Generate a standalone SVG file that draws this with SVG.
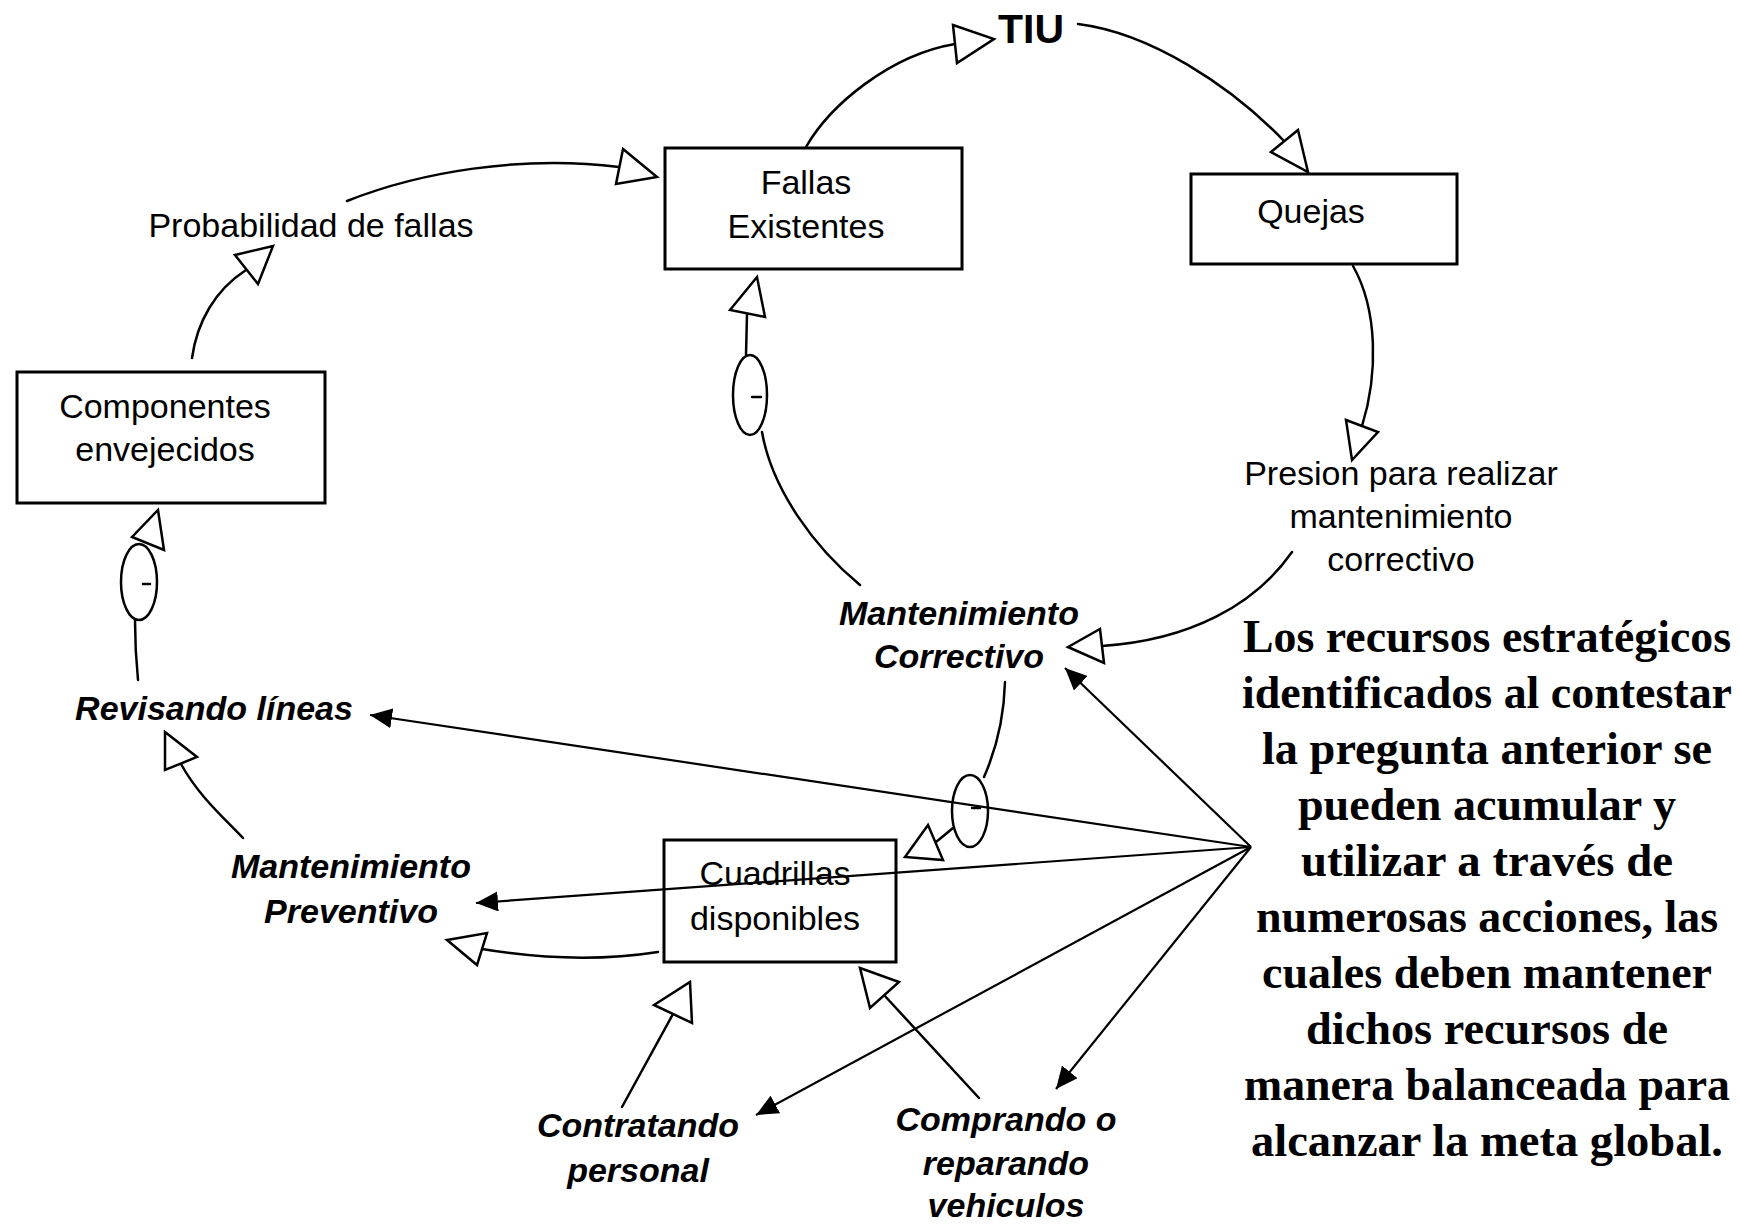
<svg xmlns="http://www.w3.org/2000/svg" width="1740" height="1226" viewBox="0 0 1740 1226">
<style>
.bg{fill:#fff}
.box{fill:#fff;stroke:#000;stroke-width:3}
.ln{fill:none;stroke:#000;stroke-width:2.5;stroke-linecap:round}
.fl{fill:none;stroke:#000;stroke-width:2.2}
.tri{fill:#fff;stroke:#000;stroke-width:2.5;stroke-linejoin:miter}
.sgn{fill:#fff;stroke:#000;stroke-width:2.5}
.t{font-family:"Liberation Sans",Arial,Helvetica,sans-serif;font-size:34px;fill:#000;text-anchor:middle}
.bi{font-weight:bold;font-style:italic}
.tiu{font-family:"Liberation Sans",Arial,Helvetica,sans-serif;font-size:41px;font-weight:bold;fill:#000}
.big{font-family:"Liberation Serif","Times New Roman",serif;font-size:47px;font-weight:bold;fill:#000;text-anchor:middle}
</style>
<defs>
<marker id="ah" markerUnits="userSpaceOnUse" viewBox="0 0 22 20" markerWidth="22" markerHeight="20" refX="22" refY="10" orient="auto">
<path d="M0,0 L22,10 L0,20 z" fill="#000"/>
</marker>
</defs>
<rect class="bg" x="0" y="0" width="1740" height="1226"/>

<g id="node-fallas">
<rect class="box" x="665" y="148" width="297" height="121"/>
<text class="t" x="806" y="194">Fallas</text>
<text class="t" x="806" y="238">Existentes</text>
</g>
<g id="node-quejas">
<rect class="box" x="1191" y="174" width="266" height="90"/>
<text class="t" x="1311" y="223">Quejas</text>
</g>
<g id="node-componentes">
<rect class="box" x="17" y="372" width="308" height="131"/>
<text class="t" x="165" y="418">Componentes</text>
<text class="t" x="165" y="461">envejecidos</text>
</g>
<g id="node-cuadrillas">
<rect class="box" x="664" y="840" width="232" height="122"/>
<text class="t" x="775" y="885">Cuadrillas</text>
<text class="t" x="775" y="930">disponibles</text>
</g>
<g id="node-tiu">
<text class="tiu" x="998" y="43">TIU</text>
</g>
<g id="node-probabilidad">
<text class="t" x="311" y="237">Probabilidad de fallas</text>
</g>
<g id="node-presion">
<text class="t" x="1401" y="485">Presion para realizar</text>
<text class="t" x="1401" y="528">mantenimiento</text>
<text class="t" x="1401" y="571">correctivo</text>
</g>
<g id="node-mant-correctivo">
<text class="t bi" x="959" y="625">Mantenimiento</text>
<text class="t bi" x="959" y="668">Correctivo</text>
</g>
<g id="node-revisando">
<text class="t bi" x="214" y="720">Revisando líneas</text>
</g>
<g id="node-mant-preventivo">
<text class="t bi" x="351" y="878">Mantenimiento</text>
<text class="t bi" x="351" y="923">Preventivo</text>
</g>
<g id="node-contratando">
<text class="t bi" x="638" y="1137">Contratando</text>
<text class="t bi" x="638" y="1182">personal</text>
</g>
<g id="node-comprando">
<text class="t bi" x="1006" y="1131">Comprando o</text>
<text class="t bi" x="1006" y="1175">reparando</text>
<text class="t bi" x="1006" y="1217">vehiculos</text>
</g>
<g id="node-nota">
<text class="big" x="1487" y="652" textLength="488" lengthAdjust="spacingAndGlyphs">Los recursos estratégicos</text>
<text class="big" x="1487" y="708" textLength="490" lengthAdjust="spacingAndGlyphs">identificados al contestar</text>
<text class="big" x="1487" y="764" textLength="450" lengthAdjust="spacingAndGlyphs">la pregunta anterior se</text>
<text class="big" x="1487" y="820" textLength="378" lengthAdjust="spacingAndGlyphs">pueden acumular y</text>
<text class="big" x="1487" y="876" textLength="372" lengthAdjust="spacingAndGlyphs">utilizar a través de</text>
<text class="big" x="1487" y="932" textLength="462" lengthAdjust="spacingAndGlyphs">numerosas acciones, las</text>
<text class="big" x="1487" y="988" textLength="450" lengthAdjust="spacingAndGlyphs">cuales deben mantener</text>
<text class="big" x="1487" y="1044" textLength="362" lengthAdjust="spacingAndGlyphs">dichos recursos de</text>
<text class="big" x="1487" y="1100" textLength="486" lengthAdjust="spacingAndGlyphs">manera balanceada para</text>
<text class="big" x="1487" y="1156" textLength="472" lengthAdjust="spacingAndGlyphs">alcanzar la meta global.</text>
</g>

<g id="connectors">
<path class="ln" d="M192,358 C197,322 215,290 246,270"/>
<polygon class="tri" points="235,255 273,246 258,284"/>
<path class="ln" d="M347,201 C420,172 520,155 619,167"/>
<polygon class="tri" points="623,149 657,177 616,184"/>
<path class="ln" d="M806,147 C830,105 890,55 955,44"/>
<polygon class="tri" points="953,25 994,39 957,63"/>
<path class="ln" d="M1078,24 C1150,33 1230,85 1284,141"/>
<polygon class="tri" points="1271,152 1298,130 1308,172"/>
<path class="ln" d="M1353,266 C1378,310 1378,375 1362,426"/>
<polygon class="tri" points="1346,420 1378,432 1352,460"/>
<path class="ln" d="M1292,552 C1255,605 1190,640 1102,646"/>
<polygon class="tri" points="1100,629 1104,663 1068,647"/>
<path class="ln" d="M860,585 C815,548 772,490 762,432"/>
<ellipse class="sgn" cx="750" cy="395" rx="17" ry="40"/>
<path class="ln" d="M752,397 L761,397"/>
<path class="ln" d="M746,355 L747,314"/>
<polygon class="tri" points="730,310 757,277 765,317"/>
<path class="ln" d="M1005,682 C1004,720 995,752 984,777"/>
<ellipse class="sgn" cx="970" cy="811" rx="18" ry="36"/>
<path class="ln" d="M972,808 L980,808"/>
<path class="ln" d="M953,828 C947,833 941,838 936,842"/>
<polygon class="tri" points="905,857 928,825 943,860"/>
<path class="ln" d="M138,680 C136,660 135,640 135,620"/>
<ellipse class="sgn" cx="139" cy="582" rx="18" ry="38"/>
<path class="ln" d="M143,584 L150,584"/>
<polygon class="tri" points="132,537 158,510 164,550"/>
<path class="ln" d="M243,838 C222,816 198,795 181,764"/>
<polygon class="tri" points="165,732 197,757 165,770"/>
<path class="ln" d="M658,952 C620,958 560,962 482,949"/>
<polygon class="tri" points="447,940 487,933 477,965"/>
<path class="ln" d="M622,1107 L673,1014"/>
<polygon class="tri" points="654,1005 690,982 692,1023"/>
<path class="ln" d="M979,1098 L884,995"/>
<polygon class="tri" points="860,968 899,982 870,1008"/>
<path class="fl" d="M1251,847 L370,715" marker-end="url(#ah)"/>
<path class="fl" d="M1251,847 L476,903" marker-end="url(#ah)"/>
<path class="fl" d="M1251,847 L1065,668" marker-end="url(#ah)"/>
<path class="fl" d="M1251,847 L756,1115" marker-end="url(#ah)"/>
<path class="fl" d="M1251,847 L1056,1089" marker-end="url(#ah)"/>
</g>
</svg>
